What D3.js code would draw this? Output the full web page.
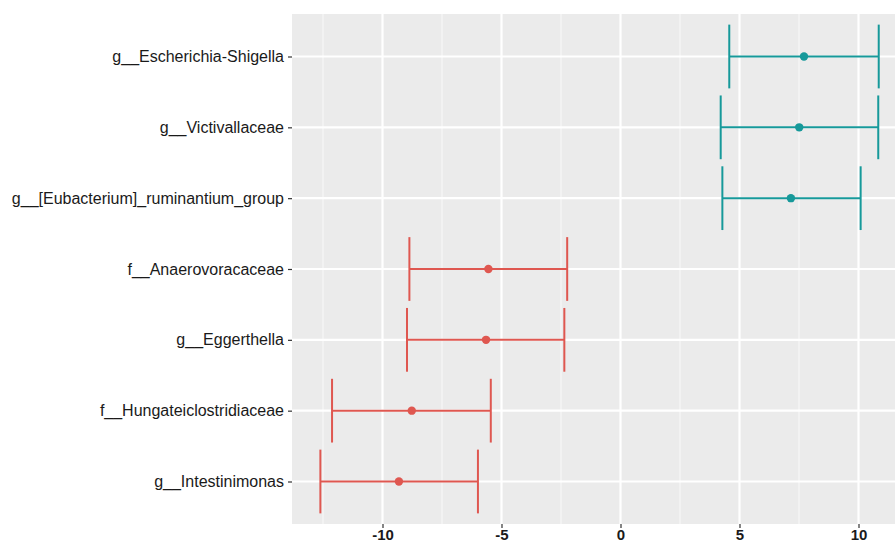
<!DOCTYPE html>
<html>
<head>
<meta charset="utf-8">
<script src="https://cdn.jsdelivr.net/npm/d3@7"></script>
<style>
  html, body { margin: 0; padding: 0; background: #fff; }
  svg { display: block; }
</style>
</head>
<body>
<svg id="chart" width="895" height="547"></svg>
<script>
// Taxa, top to bottom
const taxa = [
  "g__Escherichia-Shigella",
  "g__Victivallaceae",
  "g__[Eubacterium]_ruminantium_group",
  "f__Anaerovoracaceae",
  "g__Eggerthella",
  "f__Hungateiclostridiaceae",
  "g__Intestinimonas"
];
// Point estimates and interval bounds
const estimate = [7.71, 7.51, 7.16, -5.55, -5.65, -8.77, -9.31];
const lower    = [4.57, 4.21, 4.28, -8.87, -8.97, -12.12, -12.61];
const upper    = [10.85, 10.83, 10.09, -2.24, -2.36, -5.45, -5.99];
const xTicks   = [-10, -5, 0, 5, 10];

const posColor = "#16999a";
const negColor = "#df5750";

const svg = d3.select("#chart");
const panel = { left: 292, right: 895, top: 14, bottom: 524 };

// 23.8 px per unit, zero at x = 620.5
const pxPerUnit = 23.8, zeroX = 620.5;
const x = d3.scaleLinear()
  .domain([(panel.left - zeroX) / pxPerUnit, (panel.right - zeroX) / pxPerUnit])
  .range([panel.left, panel.right]);

const y = d3.scalePoint()
  .domain(taxa)
  .range([panel.top, panel.bottom])
  .padding(0.6);
const band = y.step();

// panel background
svg.append("rect")
  .attr("x", panel.left).attr("y", panel.top)
  .attr("width", panel.right - panel.left).attr("height", panel.bottom - panel.top)
  .attr("fill", "#ebebeb");

const grid = svg.append("g");
// minor vertical grid
const minor = d3.range(-12.5, 12.6, 5);
grid.selectAll("line.minor").data(minor).join("line")
  .attr("x1", d => x(d)).attr("x2", d => x(d))
  .attr("y1", panel.top).attr("y2", panel.bottom)
  .attr("stroke", "#f7f7f7").attr("stroke-width", 1.1);
// major vertical grid
grid.selectAll("line.majx").data(xTicks).join("line")
  .attr("x1", d => x(d)).attr("x2", d => x(d))
  .attr("y1", panel.top).attr("y2", panel.bottom)
  .attr("stroke", "#ffffff").attr("stroke-width", 2.2);
// major horizontal grid
grid.selectAll("line.majy").data(taxa).join("line")
  .attr("x1", panel.left).attr("x2", panel.right)
  .attr("y1", d => y(d)).attr("y2", d => y(d))
  .attr("stroke", "#ffffff").attr("stroke-width", 2.2);

// error bars
const rows = taxa.map((t, i) => ({ t, est: estimate[i], lo: lower[i], hi: upper[i] }));
const col = d => d.est > 0 ? posColor : negColor;
const capH = band * 0.9 / 2;

const eb = svg.append("g");
eb.selectAll("line.h").data(rows).join("line")
  .attr("x1", d => x(d.lo)).attr("x2", d => x(d.hi))
  .attr("y1", d => y(d.t)).attr("y2", d => y(d.t))
  .attr("stroke", col).attr("stroke-width", 2);
eb.selectAll("line.lo").data(rows).join("line")
  .attr("x1", d => x(d.lo)).attr("x2", d => x(d.lo))
  .attr("y1", d => y(d.t) - capH).attr("y2", d => y(d.t) + capH)
  .attr("stroke", col).attr("stroke-width", 2);
eb.selectAll("line.hi").data(rows).join("line")
  .attr("x1", d => x(d.hi)).attr("x2", d => x(d.hi))
  .attr("y1", d => y(d.t) - capH).attr("y2", d => y(d.t) + capH)
  .attr("stroke", col).attr("stroke-width", 2);
eb.selectAll("circle").data(rows).join("circle")
  .attr("cx", d => x(d.est)).attr("cy", d => y(d.t))
  .attr("r", 4.2).attr("fill", col);

// x axis
const xAxis = d3.axisBottom(x).tickValues(xTicks).tickSize(4).tickPadding(1)
  .tickFormat(d => String(d));
const gx = svg.append("g").attr("transform", `translate(0,${panel.bottom})`).call(xAxis);
gx.select(".domain").remove();
gx.selectAll(".tick line").attr("stroke", "#333").attr("stroke-width", 1.2);
gx.selectAll(".tick text")
  .attr("fill", "#1a1a1a")
  .style("font-family", "Liberation Sans, Arial, sans-serif")
  .style("font-size", "15px").style("font-weight", "bold");

// y axis
const yAxis = d3.axisLeft(y).tickSize(4).tickPadding(4);
const gy = svg.append("g").attr("transform", `translate(${panel.left},0)`).call(yAxis);
gy.select(".domain").remove();
gy.selectAll(".tick line").attr("stroke", "#333").attr("stroke-width", 1.2);
gy.selectAll(".tick text")
  .attr("fill", "#1a1a1a")
  .style("font-family", "Liberation Sans, Arial, sans-serif")
  .style("font-size", "16px");
</script>
</body>
</html>
